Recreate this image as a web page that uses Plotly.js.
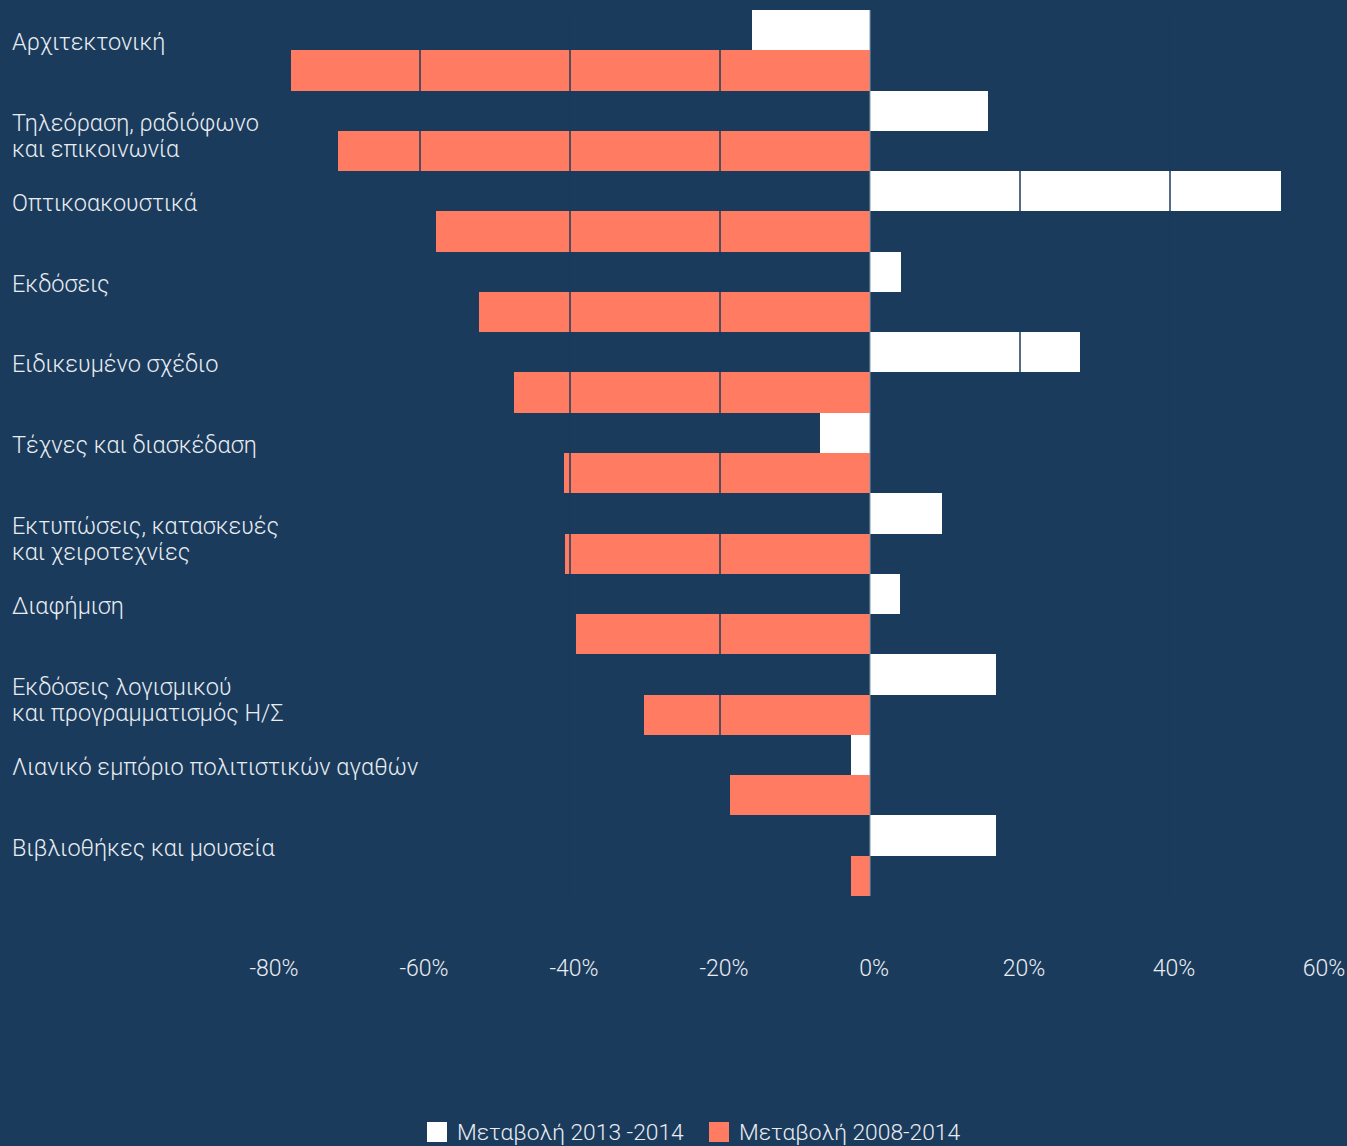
<!DOCTYPE html>
<html>
<head>
<meta charset="utf-8">
<script src="https://cdn.plot.ly/plotly-3.0.1.min.js"></script>
<style>
  html, body { margin: 0; padding: 0; background: #1b3b5d; }
  #chart { width: 1347px; height: 1146px; }
</style>
</head>
<body>
<div id="chart"></div>
<script>
const categories = [
  "Αρχιτεκτονική",
  "Τηλεόραση, ραδιόφωνο<br>και επικοινωνία",
  "Οπτικοακουστικά",
  "Εκδόσεις",
  "Ειδικευμένο σχέδιο",
  "Τέχνες και διασκέδαση",
  "Εκτυπώσεις, κατασκευές<br>και χειροτεχνίες",
  "Διαφήμιση",
  "Εκδόσεις λογισμικού<br>και προγραμματισμός Η/Σ",
  "Λιανικό εμπόριο πολιτιστικών αγαθών",
  "Βιβλιοθήκες και μουσεία"
];
const change2013_2014 = [-15.7, 15.7, 54.8, 4.1, 28.0, -6.7, 9.6, 4.0, 16.8, -2.5, 16.8];
const change2008_2014 = [-77.2, -70.9, -57.9, -52.1, -47.5, -40.8, -40.7, -39.2, -30.1, -18.7, -2.5];
const seriesNames = ["Μεταβολή 2013 -2014", "Μεταβολή 2008-2014"];
const tickVals = [-80, -60, -40, -20, 0, 20, 40, 60];
const tickText = ["-80%", "-60%", "-40%", "-20%", "0%", "20%", "40%", "60%"];

const BG = "#1b3b5d";
const RED = "#ff7b61";
const WHITE = "#ffffff";
const FONT = "Roboto, 'Noto Sans', sans-serif";
const TXT = "#e9edf1";

const traces = [
  {
    type: "bar", orientation: "h", name: seriesNames[0],
    y: categories, x: change2013_2014,
    marker: { color: WHITE, line: { width: 0 } },
    hoverinfo: "skip", showlegend: false
  },
  {
    type: "bar", orientation: "h", name: seriesNames[1],
    y: categories, x: change2008_2014,
    marker: { color: RED, line: { width: 0 } },
    hoverinfo: "skip", showlegend: false
  }
];

// gridlines drawn over the bars (background coloured), light zero line
const shapes = tickVals.filter(v => v > -80 && v < 60).map(v => ({
  type: "line", xref: "x", yref: "paper", x0: v, x1: v, y0: 0, y1: 1,
  layer: "above",
  line: { color: v === 0 ? "#7f98b0" : BG, width: v === 0 ? 1 : 1.5 }
}));

// category labels, left aligned, one annotation per line
const annotations = [];
categories.forEach(c => {
  c.split("<br>").forEach((line, i) => {
    annotations.push({
      xref: "paper", yref: "y", x: -0.2476, y: c,
      xanchor: "left", yanchor: "top", yshift: 24 - i * 26,
      align: "left", showarrow: false, text: line,
      font: { family: FONT, size: 23.5, color: TXT, weight: 300 }
    });
  });
});

// custom legend (large square swatches)
const legendColors = [WHITE, RED];
const legendSwatchX = [0.14952, 0.41810];
const swW = 20 / 1050, txOff = 28 / 1050;
legendColors.forEach((col, i) => {
  shapes.push({
    type: "rect", xref: "paper", yref: "paper",
    x0: legendSwatchX[i], x1: legendSwatchX[i] + swW,
    y0: -0.27765, y1: -0.25508,
    fillcolor: col, line: { width: 0 }, layer: "above"
  });
  annotations.push({
    xref: "paper", yref: "paper", x: legendSwatchX[i] + txOff, y: -0.26637,
    xanchor: "left", yanchor: "middle", showarrow: false,
    text: seriesNames[i], font: { family: FONT, size: 22.8, color: TXT, weight: 300 }
  });
});

const layout = {
  width: 1347, height: 1146,
  paper_bgcolor: BG, plot_bgcolor: BG,
  margin: { l: 270, r: 27, t: 10, b: 250, autoexpand: false },
  barmode: "group", bargap: 0, bargroupgap: 0,
  font: { family: FONT, color: TXT },
  xaxis: {
    range: [-80, 60], tickvals: tickVals, ticktext: tickText,
    showgrid: false, zeroline: false, showline: false, automargin: false,
    ticks: "", ticklabelstandoff: 56, ticklabelshift: 4,
    tickfont: { family: FONT, size: 23, color: TXT, weight: 300 }
  },
  yaxis: {
    autorange: "reversed", showticklabels: false, showgrid: false,
    zeroline: false, ticks: "", showline: false, automargin: false
  },
  showlegend: false,
  shapes: shapes,
  annotations: annotations
};

Plotly.newPlot("chart", traces, layout, { displayModeBar: false, staticPlot: true });
</script>
</body>
</html>
